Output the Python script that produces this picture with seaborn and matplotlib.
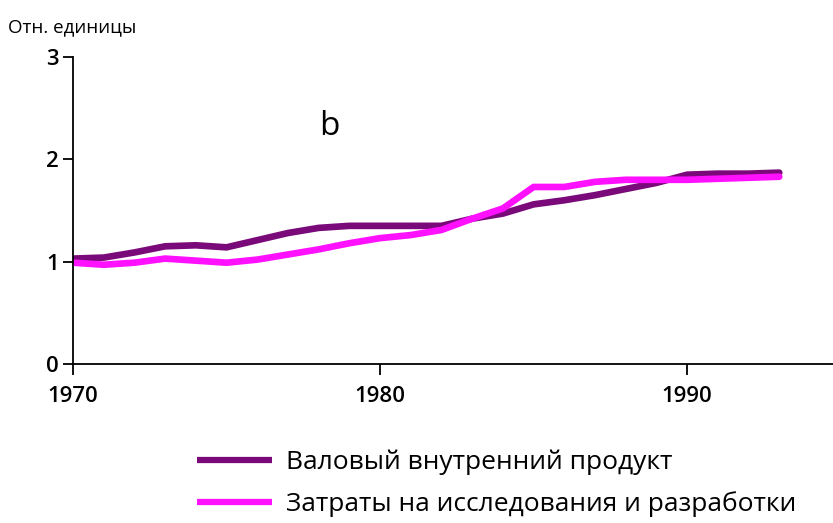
import matplotlib
matplotlib.use("Agg")
import matplotlib.pyplot as plt
import seaborn as sns
import pandas as pd
from matplotlib.lines import Line2D

years = list(range(1970, 1994))
gdp = [1.03, 1.04, 1.09, 1.15, 1.16, 1.14, 1.21, 1.28, 1.33, 1.35, 1.35, 1.35,
       1.35, 1.42, 1.47, 1.56, 1.60, 1.65, 1.71, 1.77, 1.85, 1.86, 1.86, 1.87]
rnd = [0.99, 0.97, 0.99, 1.03, 1.01, 0.99, 1.02, 1.07, 1.12, 1.18, 1.23, 1.26,
       1.31, 1.42, 1.52, 1.73, 1.73, 1.78, 1.80, 1.80, 1.80, 1.81, 1.82, 1.83]
series_names = ["Валовый внутренний продукт", "Затраты на исследования и разработки"]
colors = ["#7a0a7a", "#ff10ff"]
x_ticks = [1970, 1980, 1990]
y_ticks = [0, 1, 2, 3]

df = pd.DataFrame({
    "year": years * 2,
    "value": gdp + rnd,
    "series": [series_names[0]] * len(years) + [series_names[1]] * len(years),
})

sns.set_style("white")
plt.rcParams['font.family'] = ['Open Sans', 'DejaVu Sans']
plt.rcParams['text.color'] = 'black'
plt.rcParams['xtick.color'] = 'black'
plt.rcParams['ytick.color'] = 'black'

fig = plt.figure(figsize=(8.33, 5.23), dpi=100)
ax = fig.add_axes([73 / 833, (523 - 364) / 523, (833 - 73) / 833, (364 - 57) / 523])

sns.lineplot(data=df, x="year", y="value", hue="series", palette=colors,
             linewidth=4.8, ax=ax, legend=False)

ax.set_xlim(1970, 1994.75)
ax.set_ylim(0, 3)
ax.set_xticks(x_ticks)
ax.set_yticks(y_ticks)
ax.set_xlabel("")
ax.set_ylabel("")
for s in ["top", "right"]:
    ax.spines[s].set_visible(False)
for s in ["left", "bottom"]:
    ax.spines[s].set_color("black")
    ax.spines[s].set_linewidth(1.3)
ax.tick_params(axis="both", which="major", direction="out", width=1.3,
               color="black", labelsize=16, left=True, bottom=True)
ax.tick_params(axis="x", length=8, pad=8)
ax.tick_params(axis="y", length=7, pad=3)
for lab in ax.get_xticklabels() + ax.get_yticklabels():
    lab.set_fontweight(600)
    lab.set_color("black")

fig.text(8 / 833, 1 - 27 / 523, "Отн. единицы", fontsize=13.5, ha="left", va="center")
ax.text(1978.0, 2.32, "b", fontsize=24, ha="left", va="center")

handles = [Line2D([0], [0], color=c, linewidth=4.5, solid_capstyle="butt") for c in colors]
fig.legend(handles, series_names, loc="upper left", bbox_to_anchor=(173 / 833, 1 - 426 / 523),
           frameon=False, fontsize=19, handlelength=2.85, handletextpad=0.55, labelspacing=0.62)

fig.savefig("out.png", dpi=100)
